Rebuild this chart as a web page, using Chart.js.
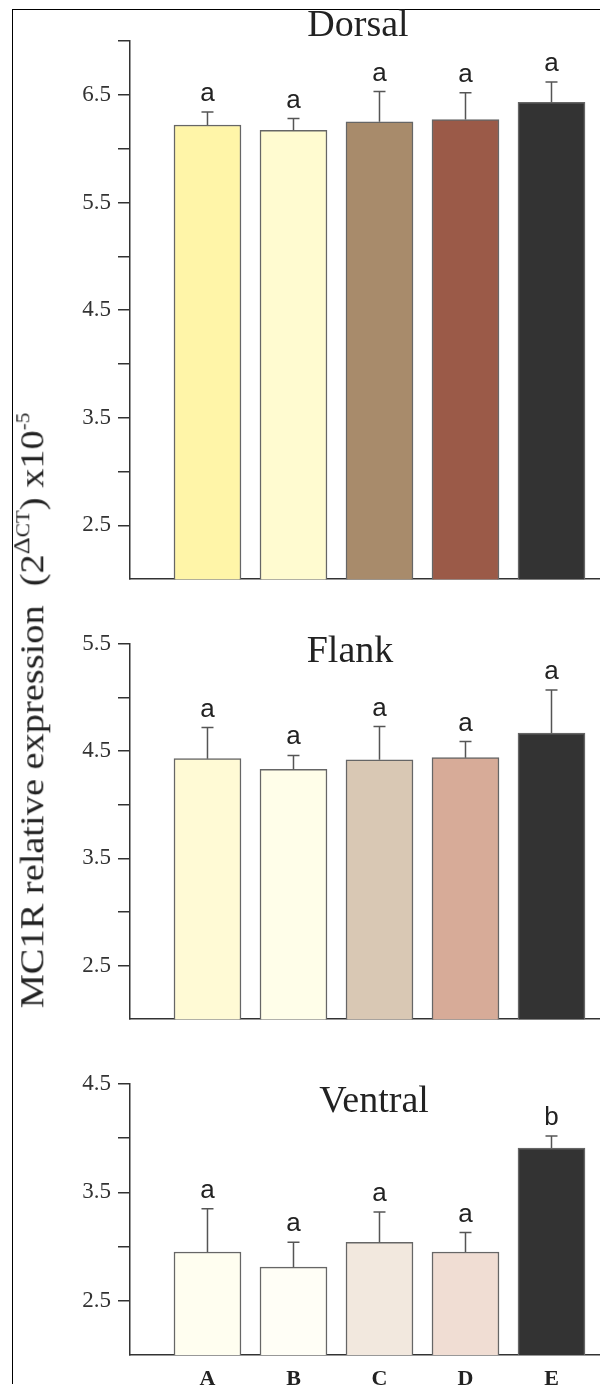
<!DOCTYPE html>
<html>
<head>
<meta charset="utf-8">
<script src="https://cdn.jsdelivr.net/npm/chart.js@4.4.1/dist/chart.umd.min.js"></script>
<style>
  html, body { margin: 0; padding: 0; background: #fff; }
  #page { position: relative; width: 600px; height: 1389px; overflow: hidden; background: #fff; }
  #frame { position: absolute; left: 12px; top: 9px; width: 600px; height: 1374px;
           border-top: 1.5px solid #000; border-left: 1.5px solid #000; }
  canvas { position: absolute; left: 0; }
  #ylabel { position: absolute; white-space: nowrap; font-family: "Liberation Serif", serif;
            font-size: 34px; color: #222; line-height: 40px; transform-origin: 50% 50%; }
  #ylabel sup { font-size: 0.55em; vertical-align: 0.75em; }
</style>
</head>
<body>
<div id="page">
  <div id="frame"></div>
  <canvas id="dorsal" width="600" height="600" style="top:0"></canvas>
  <canvas id="flank" width="600" height="440" style="top:600px"></canvas>
  <canvas id="ventral" width="600" height="349" style="top:1040px"></canvas>
  <div id="ylabel">MC1R relative expression&nbsp; (2<sup><span style="font-size:1.25em">Δ</span>CT</sup>) x10<sup>-5</sup></div>
</div>
<script>
  const categories = ['A', 'B', 'C', 'D', 'E'];

  const dorsalMeans = [6.22, 6.17, 6.25, 6.27, 6.43];
  const dorsalErrors = [0.12, 0.11, 0.28, 0.25, 0.19];
  const dorsalLetters = ['a', 'a', 'a', 'a', 'a'];
  const dorsalTickLabels = [2.5, 3.5, 4.5, 5.5, 6.5];

  const flankMeans = [4.43, 4.33, 4.42, 4.44, 4.67];
  const flankErrors = [0.29, 0.13, 0.31, 0.15, 0.40];
  const flankLetters = ['a', 'a', 'a', 'a', 'a'];
  const flankTickLabels = [2.5, 3.5, 4.5, 5.5];

  const ventralMeans = [2.95, 2.81, 3.04, 2.95, 3.91];
  const ventralErrors = [0.40, 0.23, 0.28, 0.18, 0.11];
  const ventralLetters = ['a', 'a', 'a', 'a', 'b'];
  const ventralTickLabels = [2.5, 3.5, 4.5];

  // bar fills per panel
  const dorsalColors = ['#fff5a8', '#fffbd0', '#a88b6b', '#9b5a48', '#333333'];
  const flankColors = ['#fffad5', '#fffee9', '#d9c8b4', '#d7ab98', '#333333'];
  const ventralColors = ['#fffef0', '#fffef6', '#f2e8de', '#f0ddd3', '#333333'];

  // error bars + significance letters
  const errorBars = {
    id: 'errorBars',
    afterDatasetsDraw(chart, args, opts) {
      const ctx = chart.ctx;
      const yScale = chart.scales.y;
      const meta = chart.getDatasetMeta(0);
      ctx.save();
      meta.data.forEach((bar, i) => {
        const value = chart.data.datasets[0].data[i].y;
        const yErr = yScale.getPixelForValue(value + opts.errors[i]);
        ctx.strokeStyle = '#555';
        ctx.lineWidth = 1.5;
        ctx.beginPath();
        ctx.moveTo(bar.x, bar.y);
        ctx.lineTo(bar.x, yErr);
        ctx.moveTo(bar.x - 6, yErr);
        ctx.lineTo(bar.x + 6, yErr);
        ctx.stroke();
        ctx.fillStyle = '#222';
        ctx.font = '26px "Liberation Sans", sans-serif';
        ctx.textAlign = 'center';
        ctx.textBaseline = 'alphabetic';
        ctx.fillText(opts.letters[i], bar.x, yErr - 11);
      });
      ctx.restore();
    }
  };

  const panelTitle = {
    id: 'panelTitle',
    afterDraw(chart, args, opts) {
      const ctx = chart.ctx;
      ctx.save();
      ctx.fillStyle = '#222';
      ctx.font = '38px "Liberation Serif", serif';
      ctx.textAlign = 'center';
      ctx.textBaseline = 'alphabetic';
      ctx.fillText(opts.text, opts.x, opts.y);
      ctx.restore();
    }
  };

  function drawPanel(id, title, means, errors, letters, colors, tickLabels, p) {
    const ctx = document.getElementById(id).getContext('2d');
    new Chart(ctx, {
      type: 'bar',
      data: {
        datasets: [{
          data: means.map((v, i) => ({ x: i, y: v })),
          backgroundColor: colors,
          borderColor: '#666',
          borderWidth: 1.5,
          barThickness: 67
        }]
      },
      options: {
        responsive: false,
        animation: false,
        devicePixelRatio: 1,
        layout: { padding: { top: p.padTop, left: 0, right: 0, bottom: 0 } },
        plugins: {
          legend: { display: false },
          tooltip: { enabled: false },
          errorBars: { errors: errors, letters: letters },
          panelTitle: { text: title, x: p.titleX, y: p.titleY }
        },
        scales: {
          x: {
            type: 'linear',
            offset: false,
            min: -0.901,
            max: 4.564,
            afterBuildTicks: s => { s.ticks = categories.map((c, i) => ({ value: i })); },
            afterFit: s => { s.height = p.xHeight; },
            grid: { display: false, drawTicks: false, offset: false },
            border: { display: true, color: '#333', width: 1.5 },
            ticks: {
              display: p.showX,
              padding: 11,
              color: '#222',
              font: { family: 'Liberation Serif', size: 22, weight: 'bold' },
              callback: v => categories[v]
            }
          },
          y: {
            min: p.min,
            max: p.max,
            afterFit: s => { s.width = 130; },
            border: { display: true, color: '#333', width: 1.5 },
            grid: {
              drawOnChartArea: false,
              tickLength: 12,
              lineWidth: 1.5,
              color: c => (c.tick && c.tick.value === p.min) ? 'rgba(0,0,0,0)' : '#333'
            },
            ticks: {
              stepSize: 0.5,
              autoSkip: false,
              padding: 7,
              color: '#333',
              font: { family: 'Liberation Serif', size: 23 },
              callback: v => tickLabels.includes(v) ? v.toFixed(1) : ''
            }
          }
        }
      },
      plugins: [errorBars, panelTitle]
    });
  }

  drawPanel('dorsal', 'Dorsal', dorsalMeans, dorsalErrors, dorsalLetters, dorsalColors, dorsalTickLabels,
    { min: 2, max: 7, padTop: 41, xHeight: 18, showX: false, titleX: 358, titleY: 36 });
  drawPanel('flank', 'Flank', flankMeans, flankErrors, flankLetters, flankColors, flankTickLabels,
    { min: 2, max: 5.5, padTop: 44, xHeight: 18, showX: false, titleX: 350, titleY: 62 });
  drawPanel('ventral', 'Ventral', ventralMeans, ventralErrors, ventralLetters, ventralColors, ventralTickLabels,
    { min: 2, max: 4.5, padTop: 44, xHeight: 34, showX: true, titleX: 374, titleY: 72 });

  // rotated y-axis label, stretched to the span it covers in the figure
  const yl = document.getElementById('ylabel');
  const w = yl.offsetWidth, h = yl.offsetHeight;
  yl.style.left = (27 - w / 2) + 'px';
  yl.style.top = (710 - h / 2) + 'px';
  yl.style.transform = 'rotate(-90deg) scaleX(' + (596 / w) + ')';
</script>
</body>
</html>
